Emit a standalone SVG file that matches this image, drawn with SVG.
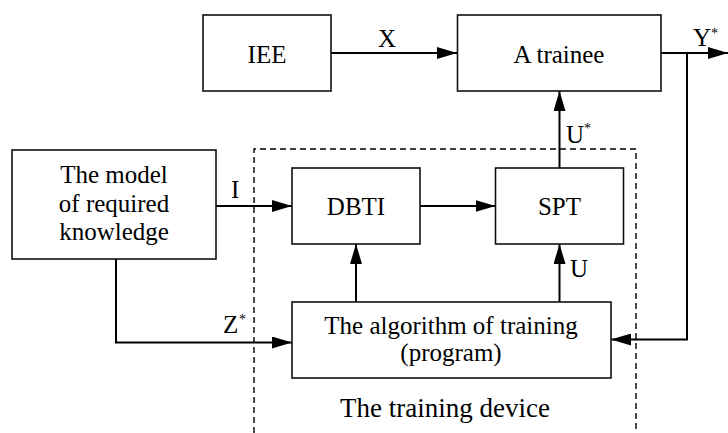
<svg xmlns="http://www.w3.org/2000/svg" width="728" height="433" viewBox="0 0 728 433">
<style>
.box{fill:#fff;stroke:#111;stroke-width:1.6}
.ln{fill:none;stroke:#000;stroke-width:2}
.dash{fill:none;stroke:#000;stroke-width:1.4;stroke-dasharray:6 4}
text{font-family:"Liberation Serif","Times New Roman",serif;font-size:25px;fill:#000}
.c{text-anchor:middle}
.sup{font-size:14px}
</style>
<defs>
<marker id="ah" markerUnits="userSpaceOnUse" markerWidth="20" markerHeight="12" refX="20" refY="6" orient="auto">
<path d="M0,0 L20,6 L0,12 z" fill="#000"/>
</marker>
</defs>
<rect width="728" height="433" fill="#fff"/>
<g id="training-device">
<path class="dash" d="M254,433 V149 H636 V433"/>
<text class="c" x="445" y="417" style="font-size:27px">The training device</text>
</g>
<g id="connectors">
<path class="ln" d="M331,53 H457" marker-end="url(#ah)"/>
<path class="ln" d="M661,53 H728" marker-end="url(#ah)"/>
<path class="ln" d="M687,53 V339.5 H611" marker-end="url(#ah)"/>
<path class="ln" d="M116,259 V342.5 H292" marker-end="url(#ah)"/>
<path class="ln" d="M216,206 H292" marker-end="url(#ah)"/>
<path class="ln" d="M420,206 H495.5" marker-end="url(#ah)"/>
<path class="ln" d="M356,302 V244" marker-end="url(#ah)"/>
<path class="ln" d="M559.5,302 V244" marker-end="url(#ah)"/>
<path class="ln" d="M559.5,168 V91" marker-end="url(#ah)"/>
<text class="c" x="387" y="47">X</text>
<text x="693" y="46">Y</text><text class="sup" x="711" y="38">*</text>
<text x="566" y="143">U</text><text class="sup" x="584" y="133">*</text>
<text x="231" y="198">I</text>
<text x="570" y="277">U</text>
<text x="223" y="333">Z</text><text class="sup" x="239" y="324">*</text>
</g>
<g id="iee">
<rect class="box" x="203" y="15" width="128" height="76"/>
<text class="c" x="267" y="63">IEE</text>
</g>
<g id="trainee">
<rect class="box" x="457.5" y="15" width="203.5" height="76"/>
<text class="c" x="559" y="63">A trainee</text>
</g>
<g id="model">
<rect class="box" x="12" y="150" width="204" height="109"/>
<text class="c" x="114" y="183">The model</text>
<text class="c" x="114" y="212">of required</text>
<text class="c" x="114" y="240">knowledge</text>
</g>
<g id="dbti">
<rect class="box" x="292" y="168" width="128" height="76"/>
<text class="c" x="356" y="215">DBTI</text>
</g>
<g id="spt">
<rect class="box" x="495.5" y="168" width="128" height="76"/>
<text class="c" x="559.5" y="215">SPT</text>
</g>
<g id="algorithm">
<rect class="box" x="292" y="302" width="319" height="76"/>
<text class="c" x="451" y="334">The algorithm of training</text>
<text class="c" x="451" y="361">(program)</text>
</g>
</svg>
